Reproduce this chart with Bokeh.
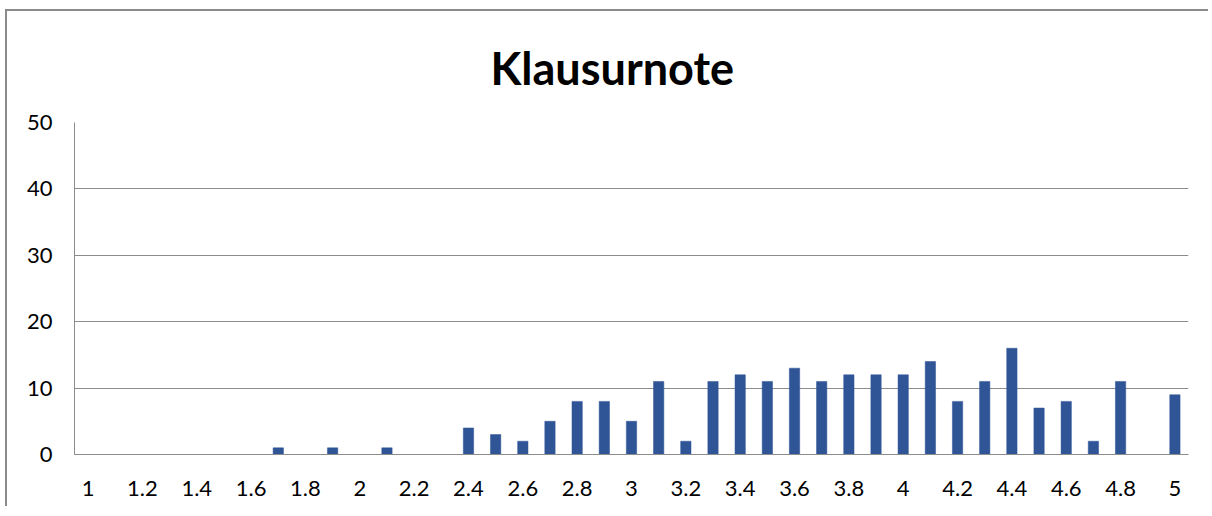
from bokeh.plotting import figure
from bokeh.models import FixedTicker, NumeralTickFormatter, Range1d, Title
from bokeh.embed import file_html
from bokeh.resources import INLINE

grades = [1.0, 1.1, 1.2, 1.3, 1.4, 1.5, 1.6, 1.7, 1.8, 1.9,
          2.0, 2.1, 2.2, 2.3, 2.4, 2.5, 2.6, 2.7, 2.8, 2.9,
          3.0, 3.1, 3.2, 3.3, 3.4, 3.5, 3.6, 3.7, 3.8, 3.9,
          4.0, 4.1, 4.2, 4.3, 4.4, 4.5, 4.6, 4.7, 4.8, 4.9, 5.0]
counts = [0, 0, 0, 0, 0, 0, 0, 1, 0, 1,
          0, 1, 0, 0, 4, 3, 2, 5, 8, 8,
          5, 11, 2, 11, 12, 11, 13, 11, 12, 12,
          12, 14, 8, 11, 16, 7, 8, 2, 11, 0, 9]
x_ticks = [1.0, 1.2, 1.4, 1.6, 1.8, 2.0, 2.2, 2.4, 2.6, 2.8, 3.0,
           3.2, 3.4, 3.6, 3.8, 4.0, 4.2, 4.4, 4.6, 4.8, 5.0]
y_ticks = [0, 10, 20, 30, 40, 50]
title_text = "Klausurnote"

FONT = "Lato"
GRID = "#8c8c8c"

p = figure(
    frame_width=1114, frame_height=332,
    min_border_left=67, min_border_right=20, min_border_top=111, min_border_bottom=52,
    output_backend="svg", toolbar_location=None,
    x_range=Range1d(0.95, 5.05), y_range=Range1d(0, 50),
)
p.styles = {"border-top": "2px solid #8a8a8a", "border-left": "2px solid #8a8a8a",
            "margin-left": "5px", "margin-top": "9px"}

p.vbar(x=grades, top=counts, width=0.038, fill_color="#2F5597", line_color="#2F5597", line_width=0.5)

t = Title(text=title_text, text_font=FONT, text_font_size="45px", text_font_style="bold",
          text_color="#000000", align="left", offset=416, standoff=54, vertical_align="middle")
p.add_layout(t, "above")

p.outline_line_color = None
p.background_fill_color = "white"
p.border_fill_color = "white"

p.xgrid.grid_line_color = None
p.ygrid.grid_line_color = GRID
p.ygrid.grid_line_width = 1
p.ygrid.ticker = FixedTicker(ticks=y_ticks)

p.xaxis.ticker = FixedTicker(ticks=x_ticks)
p.xaxis.formatter = NumeralTickFormatter(format="0.[0]")
p.yaxis.ticker = FixedTicker(ticks=y_ticks)

for ax in (p.xaxis[0], p.yaxis[0]):
    ax.axis_line_color = GRID
    ax.major_tick_line_color = None
    ax.minor_tick_line_color = None
    ax.major_label_text_font = FONT
    ax.major_label_text_font_size = "22px"
    ax.major_label_text_color = "#000000"

p.xaxis.major_label_standoff = 20
p.yaxis.major_label_standoff = 16

open("out.html", "w").write(file_html(p, INLINE))
